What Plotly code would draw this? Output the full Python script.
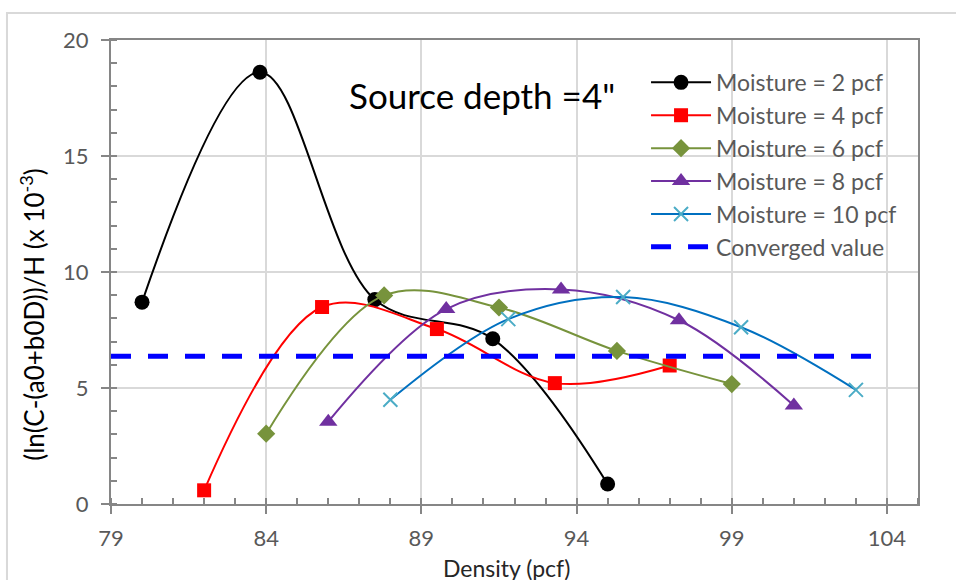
import plotly.graph_objects as go

# Density (pcf) at which each moisture series was evaluated
density_m2 = [80.0, 83.8, 87.5, 91.3, 95.0]
density_m4 = [82.0, 85.8, 89.5, 93.3, 97.0]
density_m6 = [84.0, 87.8, 91.5, 95.3, 99.0]
density_m8 = [86.0, 89.8, 93.5, 97.3, 101.0]
density_m10 = [88.0, 91.8, 95.5, 99.3, 103.0]

# (ln(C-(a0+b0D))/H values, x 10^-3
value_m2 = [8.70, 18.61, 8.81, 7.12, 0.86]
value_m4 = [0.59, 8.49, 7.54, 5.21, 5.97]
value_m6 = [3.03, 8.99, 8.47, 6.60, 5.17]
value_m8 = [3.55, 8.40, 9.25, 7.92, 4.25]
value_m10 = [4.49, 7.97, 8.92, 7.62, 4.92]

converged_x = [79, 104]
converged_value = [6.37, 6.37]

x_ticks = [79, 84, 89, 94, 99, 104]
y_ticks = [0, 5, 10, 15, 20]

FONT = "Lato"
TICK_GREY = "#595959"
AXIS_GREY = "#868686"
GRID_GREY = "#d9d9d9"

fig = go.Figure()

series = [
    ("Moisture = 2 pcf", density_m2, value_m2, "#000000",
     dict(symbol="circle", size=15, color="#000000")),
    ("Moisture = 4 pcf", density_m4, value_m4, "#ff0000",
     dict(symbol="square", size=14, color="#ff0000")),
    ("Moisture = 6 pcf", density_m6, value_m6, "#77933c",
     dict(symbol="diamond", size=14, color="#77933c")),
    ("Moisture = 8 pcf", density_m8, value_m8, "#7030a0",
     dict(symbol="triangle-up", size=16, color="#7030a0")),
    ("Moisture = 10 pcf", density_m10, value_m10, "#0070c0",
     dict(symbol="x-thin", size=14, color="#4bacc6",
          line=dict(color="#4bacc6", width=2))),
]

for i, (name, xs, ys, color, marker) in enumerate(series):
    fig.add_trace(go.Scatter(
        x=xs, y=ys, name=name, mode="lines+markers",
        line=dict(color=color, width=2, shape="spline", smoothing=1.0),
        marker=marker, legendgroup=f"g{i}",
    ))

fig.add_trace(go.Scatter(
    x=converged_x, y=converged_value, name="Converged value", mode="lines",
    line=dict(color="#0000ff", width=5, dash="20px,17px"),
    legendgroup="g5",
))

# light outer chart frame
fig.add_shape(type="rect", xref="paper", yref="paper",
              x0=-0.1289, x1=1.3, y0=-0.5, y1=1.058,
              line=dict(color=GRID_GREY, width=2), layer="below")

fig.add_annotation(text="Source depth =4\"", xref="paper", yref="paper",
                   x=0.4597, y=0.8816, xanchor="center", yanchor="middle",
                   showarrow=False, font=dict(family=FONT, size=35, color="#000000"))

# axis titles placed as free text
fig.add_annotation(text="Density (pcf)", xref="paper", yref="paper",
                   x=0.4895, y=-0.138, xanchor="center", yanchor="middle",
                   showarrow=False, font=dict(family=FONT, size=23, color="#262626"))
fig.add_annotation(text="(ln(C-(a0+b0D))/H (x 10<sup>-3</sup>)",
                   xref="paper", yref="paper", x=-0.0967, y=0.41,
                   xanchor="center", yanchor="middle", textangle=-90,
                   showarrow=False, font=dict(family=FONT, size=26, color="#000000"))

fig.update_xaxes(
    range=[79, 105], tickvals=x_ticks, ticktext=[str(v) for v in x_ticks],
    showgrid=True, gridcolor=GRID_GREY, gridwidth=2,
    showline=True, linecolor=AXIS_GREY, linewidth=2, mirror=True,
    ticks="outside", ticklen=8, tickcolor=AXIS_GREY, tickwidth=2,
    minor=dict(ticks="inside", dtick=1, tick0=79, ticklen=6,
               tickcolor=AXIS_GREY, tickwidth=2, showgrid=False),
    tickfont=dict(family=FONT, size=22, color=TICK_GREY),
    ticklabelstandoff=6,
    zeroline=False,
)
fig.update_yaxes(
    range=[0, 20], tickvals=y_ticks, ticktext=[str(v) for v in y_ticks],
    showgrid=True, gridcolor=GRID_GREY, gridwidth=2,
    showline=True, linecolor=AXIS_GREY, linewidth=2, mirror=True,
    ticks="outside", ticklen=8, tickcolor=AXIS_GREY, tickwidth=2,
    minor=dict(ticks="inside", dtick=1, tick0=0, ticklen=6,
               tickcolor=AXIS_GREY, tickwidth=2, showgrid=False),
    tickfont=dict(family=FONT, size=22, color=TICK_GREY),
    ticklabelstandoff=8,
    zeroline=False,
)

fig.update_layout(
    width=956, height=580,
    margin=dict(l=111, r=38, t=40, b=76),
    paper_bgcolor="white", plot_bgcolor="white",
    showlegend=True,
    legend=dict(x=0.663, y=0.955, xanchor="left", yanchor="top",
                bgcolor="rgba(0,0,0,0)", tracegroupgap=0, itemwidth=60,
                font=dict(family=FONT, size=23, color=TICK_GREY)),
)

fig.write_html("out.html")
